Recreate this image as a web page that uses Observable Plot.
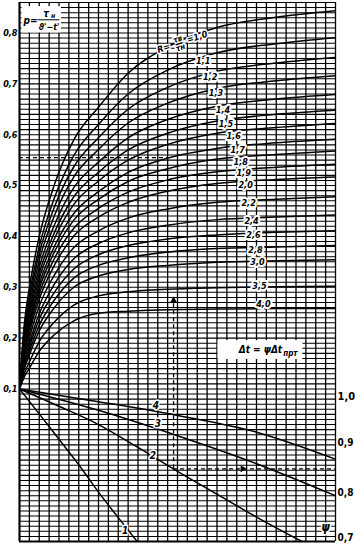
<!DOCTYPE html>
<html><head><meta charset="utf-8">
<style>body{margin:0;background:#fff} #chart svg{display:block}</style>
</head><body><div id="chart"></div>
<script src="https://cdn.jsdelivr.net/npm/d3@7"></script>
<script src="https://cdn.jsdelivr.net/npm/@observablehq/plot@0.6"></script>
<script>
// ---- data ----
const uGrid = [0, 0.5, 1, 2, 3.5, 5.5, 8, 11, 15, 20, 26, 32];
const rValues = [1.0,1.1,1.2,1.3,1.4,1.5,1.6,1.7,1.8,1.9,2.0,2.2,2.4,2.6,2.8,3.0,3.5,4.0];
const rLabels = ["1,0","1,1","1,2","1,3","1,4","1,5","1,6","1,7","1,8","1,9","2,0","2,2","2,4","2,6","2,8","3,0","3,5","4,0"];
// p values of each R curve at uGrid
const pCurves = [
  [0.100,0.230,0.299,0.400,0.500,0.590,0.654,0.721,0.773,0.811,0.831,0.844],
  [0.100,0.220,0.285,0.380,0.474,0.559,0.620,0.680,0.727,0.761,0.779,0.791],
  [0.100,0.213,0.275,0.366,0.456,0.537,0.594,0.650,0.693,0.725,0.741,0.752],
  [0.100,0.207,0.264,0.353,0.439,0.517,0.571,0.623,0.662,0.691,0.706,0.716],
  [0.100,0.200,0.255,0.339,0.421,0.496,0.546,0.594,0.630,0.656,0.670,0.679],
  [0.100,0.194,0.246,0.327,0.406,0.478,0.526,0.570,0.603,0.627,0.640,0.648],
  [0.100,0.189,0.239,0.317,0.394,0.463,0.509,0.550,0.581,0.603,0.614,0.622],
  [0.100,0.183,0.231,0.306,0.379,0.445,0.488,0.526,0.554,0.573,0.584,0.591],
  [0.100,0.179,0.224,0.297,0.368,0.432,0.473,0.508,0.533,0.552,0.561,0.568],
  [0.100,0.174,0.218,0.287,0.355,0.416,0.455,0.487,0.511,0.527,0.536,0.542],
  [0.100,0.170,0.211,0.277,0.342,0.401,0.438,0.467,0.489,0.504,0.512,0.517],
  [0.100,0.162,0.200,0.263,0.323,0.378,0.411,0.436,0.454,0.467,0.473,0.478],
  [0.100,0.156,0.190,0.248,0.305,0.356,0.386,0.407,0.422,0.433,0.438,0.442],
  [0.100,0.150,0.182,0.237,0.289,0.336,0.364,0.382,0.395,0.403,0.408,0.411],
  [0.100,0.145,0.174,0.225,0.274,0.318,0.343,0.358,0.369,0.376,0.379,0.382],
  [0.100,0.140,0.167,0.214,0.259,0.300,0.322,0.335,0.343,0.349,0.352,0.354],
  [0.100,0.131,0.153,0.193,0.231,0.265,0.283,0.291,0.296,0.299,0.301,0.302],
  [0.100,0.124,0.141,0.174,0.206,0.234,0.249,0.253,0.256,0.257,0.258,0.258]
];
// label positions of the R curves (u, p)
const rLabelU = [18.6,19.3,19.9,20.6,20.9,21.7,22.1,22.4,22.7,22.9,23.2,23.5,23.7,23.9,24.1,24.3,24.7];
const rLabelP = [0.744,0.713,0.681,0.648,0.620,0.598,0.569,0.547,0.524,0.500,0.465,0.431,0.402,0.374,0.349,0.302,0.266];

// lower family: psi versus u
const psiNames = ["1","2","3","4"];
const psiU = [
  [0, 2, 4, 6, 8, 10, 12],
  [0, 4, 8, 12, 16, 20, 24, 28.6],
  [0, 8, 16, 24, 32],
  [0, 8, 16, 24, 32]
];
const psiV = [
  [1.0, 0.951, 0.901, 0.851, 0.797, 0.747, 0.698],
  [1.0, 0.966, 0.930, 0.885, 0.838, 0.793, 0.748, 0.700],
  [1.0, 0.958, 0.908, 0.853, 0.790],
  [1.0, 0.975, 0.948, 0.915, 0.862]
];
const psiLabelU = [10.7, 13.5, 14.0, 13.8];
const psiLabelV = [0.722, 0.869, 0.932, 0.966];

const leftTicks = [0.1,0.2,0.3,0.4,0.5,0.6,0.7,0.8];
const rightTicks = [1.0, 0.9, 0.8, 0.7];
const rightTickSize = [11, 10, 10, 10];
const rightTickShift = [8, 3, 2, -4];
const psiOffset = 0.9; // psi = p + 0.9 on the shared vertical scale

// worked example (dashed)
const exampleP = 0.555, exampleU = 15.6, examplePsi = 0.843, exampleTop = 0.28;

// ---- build ----
const upper = rValues.flatMap((r, i) => uGrid.map((u, j) => ({r, u, p: pCurves[i][j]})));
const lower = psiNames.flatMap((n, i) => psiU[i].map((u, j) => ({n, u, p: psiV[i][j] - psiOffset})));
const fmt = v => v.toFixed(1).replace(".", ",");
const F = "'DejaVu Sans Condensed','DejaVu Sans',sans-serif";
const T = {fontFamily: F, fontWeight: "bold", fontStyle: "italic", fill: "black"};
const halo = {stroke: "white", strokeWidth: 3, paintOrder: "stroke"};

const chart = Plot.plot({
  width: 355, height: 546,
  marginLeft: 19, marginRight: 20, marginTop: 2, marginBottom: 5,
  x: {domain: [0, 32], axis: null},
  y: {domain: [-0.2, 0.86], axis: null},
  style: {background: "white", fontFamily: F},
  marks: [
    Plot.ruleY(d3.range(-20, 87).map(k => k / 100), {stroke: "#000", strokeWidth: 1.05}),
    Plot.ruleX(d3.range(0, 33), {stroke: "#000", strokeWidth: 1.3}),
    Plot.ruleX([0], {stroke: "black", strokeWidth: 2}),
    Plot.ruleY([-0.2], {stroke: "black", strokeWidth: 1.8}),
    Plot.line(upper, {x: "u", y: "p", z: "r", curve: "monotone-x", stroke: "black", strokeWidth: 1.5, clip: "frame"}),
    Plot.line(lower, {x: "u", y: "p", z: "n", curve: "monotone-x", stroke: "black", strokeWidth: 1.5, clip: "frame"}),
    // dashed example path
    Plot.ruleY([exampleP], {x1: 0, x2: exampleU, stroke: "black", strokeWidth: 1.3, strokeDasharray: "4,3"}),
    Plot.ruleX([exampleU], {y1: examplePsi - psiOffset, y2: exampleTop, stroke: "black", strokeWidth: 1.3, strokeDasharray: "4,3"}),
    Plot.ruleY([examplePsi - psiOffset], {x1: exampleU, x2: 32, stroke: "black", strokeWidth: 1.3, strokeDasharray: "4,3"}),
    Plot.dot([[exampleU, exampleTop - 0.006]], {x: d => d[0], y: d => d[1], symbol: "triangle", r: 2.6, fill: "black", stroke: "none"}),
    Plot.dot([[22.6, examplePsi - psiOffset]], {x: d => d[0], y: d => d[1], symbol: "triangle", rotate: 90, r: 2.6, fill: "black", stroke: "none"}),
    // formula box
    Plot.rect([{}], {x1: 0.25, x2: 4.25, y1: 0.8, y2: 0.852, fill: "white"}),
    Plot.text(["p="], {x: 0.4, y: 0.825, textAnchor: "start", fontSize: 10, ...T}),
    Plot.text(["τ"], {x: 2.7, y: 0.838, fontSize: 10, ...T}),
    Plot.text(["н"], {x: 3.4, y: 0.834, fontSize: 7, ...T}),
    Plot.ruleY([0.826], {x1: 1.85, x2: 4.1, stroke: "black", strokeWidth: 1}),
    Plot.text(["ϑ'−t'"], {x: 3.0, y: 0.811, fontSize: 9, ...T}),
    // R label
    Plot.text(["R="], {x: 14.6, y: 0.770, rotate: -18, fontSize: 9, ...T, ...halo}),
    Plot.text(["τв\nτн"], {x: 16.15, y: 0.780, rotate: -18, fontSize: 8, lineHeight: 1.1, ...T, ...halo}),
    Plot.text(["—"], {x: 16.15, y: 0.780, rotate: -18, fontSize: 9, ...T}),
    Plot.text(["=1,0"], {x: 18.0, y: 0.792, rotate: -18, fontSize: 9, ...T, ...halo}),
    // R curve labels
    Plot.text(rLabels.slice(1), {x: (d, i) => rLabelU[i], y: (d, i) => rLabelP[i], fontSize: 9, ...T, stroke: "white", strokeWidth: 4, paintOrder: "stroke"}),
    // psi curve labels
    Plot.text(psiNames, {x: (d, i) => psiLabelU[i], y: (d, i) => psiLabelV[i] - psiOffset, fontSize: 10, ...T, ...halo}),
    // Δt box
    Plot.rect([{}], {x1: 20.1, x2: 28.7, y1: 0.158, y2: 0.195, fill: "white"}),
    Plot.text(["Δt = ψΔt"], {x: 26.6, y: 0.177, textAnchor: "end", fontSize: 10, ...T}),
    Plot.text(["прт"], {x: 26.7, y: 0.170, textAnchor: "start", fontSize: 8, ...T}),
    // psi symbol
    Plot.text(["ψ"], {x: 31.0, y: -0.172, fontSize: 12, ...T, ...halo}),
    // axes labels
    Plot.text(leftTicks, {y: d => d, frameAnchor: "left", textAnchor: "end", dx: -2, text: fmt, fontSize: 9, ...T}),
    ...rightTicks.map((t, i) => Plot.text([t], {y: d => d - psiOffset, frameAnchor: "right", textAnchor: "start", dx: 2,
      dy: rightTickShift[i], text: fmt, fontSize: rightTickSize[i], ...T, fontStyle: "normal"}))
  ]
});
document.getElementById("chart").appendChild(chart);
</script>
</body></html>
